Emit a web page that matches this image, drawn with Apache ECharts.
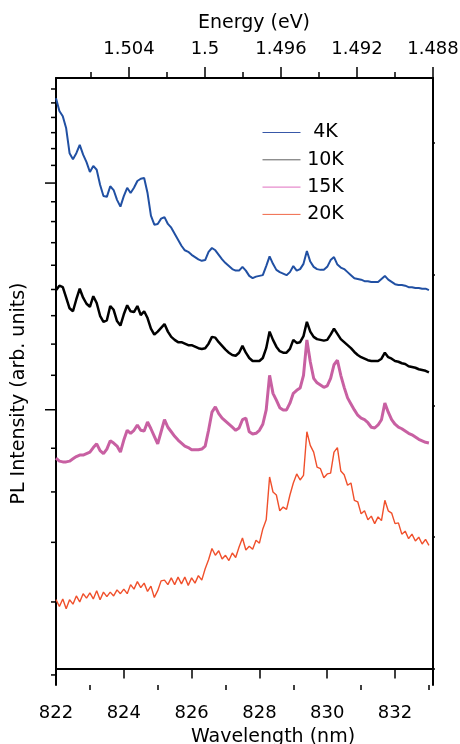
<!DOCTYPE html>
<html><head><meta charset="utf-8">
<script src="https://cdn.jsdelivr.net/npm/echarts@6/dist/echarts.min.js"></script>
<style>html,body{margin:0;padding:0;background:#fff}#c{width:460px;height:744px}</style>
</head><body><div id="c"></div>
<script>
// Wavelength grid (nm)
const wavelengths = [
822.0,822.1,822.2,822.3,822.4,822.5,822.6,822.7,822.8,822.9,
823.0,823.1,823.2,823.3,823.4,823.5,823.6,823.7,823.8,823.9,
824.0,824.1,824.2,824.3,824.4,824.5,824.6,824.7,824.8,824.9,
825.0,825.1,825.2,825.3,825.4,825.5,825.6,825.7,825.8,825.9,
826.0,826.1,826.2,826.3,826.4,826.5,826.6,826.7,826.8,826.9,
827.0,827.1,827.2,827.3,827.4,827.5,827.6,827.7,827.8,827.9,
828.0,828.1,828.2,828.3,828.4,828.5,828.6,828.7,828.8,828.9,
829.0,829.1,829.2,829.3,829.4,829.5,829.6,829.7,829.8,829.9,
830.0,830.1,830.2,830.3,830.4,830.5,830.6,830.7,830.8,830.9,
831.0,831.1,831.2,831.3,831.4,831.5,831.6,831.7,831.8,831.9,
832.0,832.1,832.2,832.3,832.4,832.5,832.6,832.7,832.8,832.9,
833.0];
// log10 of PL intensity (arb. units)
const pl4K = [
1.368,1.351,1.344,1.328,1.295,1.287,1.295,1.306,1.293,1.283,
1.270,1.278,1.273,1.253,1.238,1.237,1.251,1.246,1.233,1.224,
1.238,1.249,1.242,1.249,1.258,1.261,1.262,1.242,1.212,1.200,
1.201,1.208,1.210,1.201,1.196,1.188,1.180,1.172,1.166,1.164,
1.160,1.157,1.154,1.152,1.153,1.164,1.169,1.166,1.160,1.154,
1.149,1.145,1.141,1.139,1.139,1.144,1.139,1.132,1.129,1.131,
1.132,1.133,1.145,1.158,1.148,1.140,1.137,1.135,1.133,1.137,
1.145,1.139,1.141,1.148,1.165,1.151,1.144,1.141,1.140,1.140,
1.144,1.153,1.157,1.147,1.143,1.141,1.137,1.133,1.129,1.128,
1.127,1.125,1.125,1.124,1.124,1.124,1.128,1.132,1.127,1.124,
1.121,1.120,1.120,1.119,1.117,1.117,1.116,1.116,1.115,1.115,
1.113];
const pl10K = [
1.113,1.119,1.117,1.103,1.089,1.085,1.101,1.115,1.103,1.095,
1.091,1.105,1.096,1.079,1.071,1.073,1.092,1.087,1.072,1.066,
1.081,1.093,1.085,1.084,1.092,1.080,1.085,1.076,1.062,1.054,
1.058,1.063,1.068,1.058,1.051,1.047,1.044,1.044,1.042,1.040,
1.040,1.038,1.036,1.035,1.036,1.042,1.051,1.050,1.044,1.039,
1.034,1.030,1.027,1.026,1.030,1.039,1.030,1.023,1.019,1.019,
1.019,1.023,1.036,1.058,1.047,1.038,1.032,1.030,1.030,1.035,
1.047,1.043,1.044,1.052,1.071,1.058,1.051,1.048,1.047,1.046,
1.047,1.054,1.062,1.055,1.048,1.044,1.040,1.036,1.031,1.027,
1.024,1.022,1.020,1.019,1.019,1.019,1.022,1.030,1.024,1.022,
1.019,1.018,1.016,1.015,1.012,1.011,1.010,1.008,1.007,1.006,
1.004];
const pl15K = [
0.890,0.886,0.885,0.885,0.886,0.889,0.892,0.894,0.894,0.896,
0.898,0.904,0.909,0.900,0.896,0.902,0.913,0.910,0.906,0.898,
0.914,0.927,0.923,0.927,0.934,0.927,0.926,0.938,0.929,0.919,
0.909,0.925,0.941,0.931,0.925,0.919,0.914,0.910,0.906,0.904,
0.901,0.901,0.901,0.902,0.906,0.927,0.951,0.958,0.949,0.943,
0.939,0.935,0.931,0.927,0.930,0.941,0.943,0.925,0.922,0.923,
0.927,0.935,0.954,1.000,0.976,0.967,0.957,0.954,0.954,0.963,
0.976,0.980,0.983,1.000,1.047,1.018,0.996,0.990,0.987,0.984,
0.986,0.996,1.014,1.020,1.000,0.984,0.970,0.962,0.954,0.947,
0.943,0.941,0.937,0.931,0.930,0.934,0.941,0.963,0.951,0.941,
0.935,0.931,0.929,0.926,0.923,0.921,0.918,0.915,0.913,0.911,
0.910];
const pl20K = [
0.702,0.693,0.703,0.690,0.702,0.696,0.707,0.699,0.710,0.704,
0.711,0.703,0.714,0.702,0.712,0.706,0.712,0.707,0.715,0.710,
0.716,0.710,0.722,0.716,0.726,0.718,0.724,0.713,0.720,0.705,
0.714,0.727,0.728,0.722,0.731,0.722,0.732,0.723,0.732,0.721,
0.731,0.724,0.734,0.728,0.743,0.755,0.770,0.761,0.767,0.756,
0.761,0.754,0.764,0.758,0.772,0.784,0.768,0.773,0.769,0.781,
0.777,0.796,0.808,0.865,0.845,0.841,0.820,0.825,0.822,0.841,
0.857,0.869,0.861,0.867,0.925,0.907,0.898,0.878,0.876,0.864,
0.869,0.870,0.898,0.904,0.873,0.868,0.854,0.857,0.834,0.832,
0.816,0.820,0.808,0.813,0.803,0.812,0.807,0.834,0.820,0.817,
0.803,0.804,0.789,0.793,0.783,0.789,0.780,0.785,0.776,0.782,
0.774];
const seriesNames = ['4K','10K','15K','20K'];
const seriesColors = ['#2150a3','#000000','#c860a2','#f0502c'];
const seriesWidths = [2, 2.5, 3, 1.4];
const legendColors = ['#3858a8','#606060','#e070c0','#f06848'];
// axis ticks
const yTickValues = [4,5,6,7,8,9,10,11,12,13,14,15,16,17,18,19,20,21,22,23,24];
const yMajorTickValues = [9,18];
const wlMajorTicks = [822,824,826,828,830,832];
const wlMinorTicks = [823,825,827,829,831,833];
const energyMajorTicks = [1.504,1.5,1.496,1.492,1.488];
const energyMinorTicks = [1.506,1.502,1.498,1.494,1.490];
const rightTicks = [0,1,2,3,4];

const FONT = 'DejaVu Sans';
const X_MIN = 822, X_MAX = 833.12;
const yMin = 0.5887, yMax = 1.3948;
const allSeries = [pl4K, pl10K, pl15K, pl20K];

const chart = echarts.init(document.getElementById('c'), null, {renderer:'canvas'});
const axisLineStyle = {color:'#000', width:2};
const lineSeries = seriesNames.map((n,i)=>({
  name:n, type:'line', xAxisIndex:0, yAxisIndex:0,
  showSymbol:false, symbol:'none', silent:true,
  lineStyle:{color:seriesColors[i], width:seriesWidths[i]},
  itemStyle:{color:seriesColors[i]},
  data: wavelengths.map((w,k)=>[w, allSeries[i][k]])
}));
// left-axis tick marks on the log intensity scale (placed through the axis scale)
const tickSeries = {
  type:'custom', xAxisIndex:0, yAxisIndex:0, silent:true, clip:false, z:5,
  data: yTickValues.map(v => [X_MIN, Math.log10(v), yMajorTickValues.indexOf(v) >= 0 ? 1 : 0]),
  renderItem: (params, api) => {
    const pt = api.coord([api.value(0), api.value(1)]);
    const len = api.value(2) ? 11 : 5;
    return {type:'line', shape:{x1:pt[0], y1:pt[1], x2:pt[0]-len, y2:pt[1]},
            style:{stroke:'#000', lineWidth:1.5}};
  }
};
const option = {
  animation:false,
  backgroundColor:'#fff',
  grid:{left:56,right:27,top:78,bottom:59, outerBoundsMode:'none', containLabel:false},
  legend:{
    orient:'vertical', left:257, top:118, itemWidth:38, itemHeight:18, itemGap:8.3,
    data: seriesNames.map((n,i)=>({name:n, itemStyle:{color:legendColors[i], opacity:0},
                                   lineStyle:{color:legendColors[i], width:1}})),
    formatter: n => '{c|'+n+'}',
    textStyle:{fontFamily:FONT, fontSize:19, color:'#000', rich:{c:{width:40, align:'center', fontFamily:FONT, fontSize:19}}}
  },
  xAxis:[
    {type:'value', position:'bottom', min:X_MIN, max:X_MAX,
     axisLine:{show:true, lineStyle:axisLineStyle},
     axisTick:{show:true, customValues:wlMajorTicks, length:10, lineStyle:{color:'#000', width:1.5}},
     axisLabel:{customValues:wlMajorTicks, margin:19, fontFamily:FONT, fontSize:18, color:'#000'},
     splitLine:{show:false},
     name:'Wavelength (nm)', nameLocation:'middle', nameGap:43,
     nameTextStyle:{fontFamily:FONT, fontSize:19, color:'#000', padding:[0,0,0,57]}},
    {type:'value', position:'bottom', min:X_MIN, max:X_MAX,
     axisLine:{show:false}, axisLabel:{show:false}, splitLine:{show:false},
     axisTick:{show:true, customValues:wlMinorTicks, length:5, lineStyle:{color:'#000', width:1.5}}},
    {type:'value', position:'top', min:1.488, max:1.50784, inverse:true,
     axisLine:{show:true, lineStyle:axisLineStyle},
     axisTick:{show:true, customValues:energyMajorTicks, length:11, lineStyle:{color:'#000', width:1.5}},
     axisLabel:{customValues:energyMajorTicks, margin:20, fontFamily:FONT, fontSize:18, color:'#000',
       formatter: v => String(+(+v).toFixed(3))},
     splitLine:{show:false},
     name:'Energy (eV)', nameLocation:'middle', nameGap:45,
     nameTextStyle:{fontFamily:FONT, fontSize:19, color:'#000', padding:[0,0,0,19]}},
    {type:'value', position:'top', min:1.488, max:1.50784, inverse:true,
     axisLine:{show:false}, axisLabel:{show:false}, splitLine:{show:false},
     axisTick:{show:true, customValues:energyMinorTicks, length:6, lineStyle:{color:'#000', width:1.5}}}
  ],
  yAxis:[
    {type:'value', position:'left', min:yMin, max:yMax,
     axisLine:{show:true, lineStyle:axisLineStyle},
     axisTick:{show:false},
     axisLabel:{show:false}, splitLine:{show:false},
     name:'PL Intensity (arb. units)', nameLocation:'middle', nameGap:27,
     nameTextStyle:{fontFamily:FONT, fontSize:19, color:'#000', padding:[0,24,0,0]}},
    {type:'value', position:'right', min:-0.125, max:4.495,
     axisLine:{show:true, lineStyle:axisLineStyle}, axisLabel:{show:false}, splitLine:{show:false},
     axisTick:{show:true, customValues:rightTicks, length:2, lineStyle:{color:'#000', width:1.5}}}
  ],
  series: lineSeries.concat([tickSeries])
};
chart.setOption(option);
</script>
</body></html>
